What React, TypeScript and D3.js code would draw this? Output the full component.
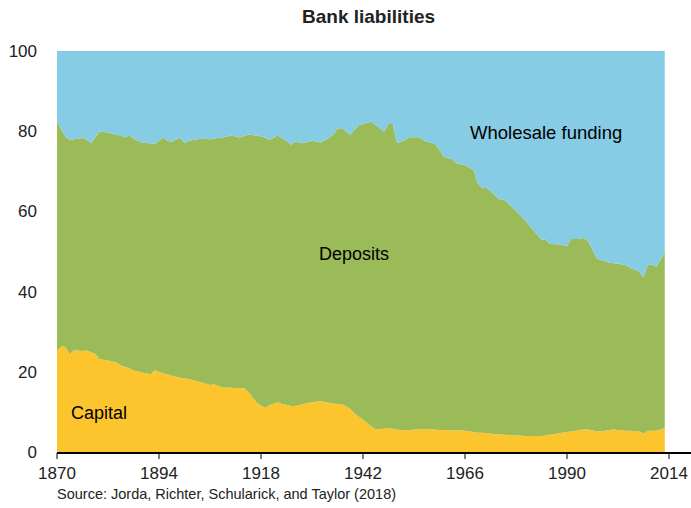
import React from "react";
import * as d3 from "d3";

const years = [
  1870, 1871, 1872, 1873, 1874, 1876, 1877, 1878, 1879, 1880, 1882, 1884, 1885, 1886, 1887, 1888,
  1890, 1892, 1893, 1895, 1896, 1897, 1899, 1900, 1901, 1903, 1904, 1906, 1907, 1909, 1911, 1913,
  1914, 1915, 1917, 1919, 1920, 1922, 1923, 1924, 1925, 1926, 1928, 1930, 1932, 1934, 1935, 1936,
  1937, 1939, 1940, 1941, 1942, 1944, 1945, 1947, 1948, 1949, 1950, 1951, 1953, 1955, 1957, 1959,
  1960, 1961, 1963, 1964, 1966, 1968, 1969, 1970, 1971, 1973, 1974, 1975, 1977, 1979, 1980, 1982,
  1984, 1985, 1986, 1988, 1990, 1991, 1993, 1994, 1995, 1997, 1998, 2000, 2001, 2002, 2004, 2005,
  2007, 2008, 2009, 2010, 2011, 2012, 2013,
];

// share of total liabilities, %
const capital = [
  25.4, 26.3, 26.2, 24.4, 25.4, 25.2, 25.4, 24.9, 24.5, 23.2, 22.8, 22.3, 21.6, 21.2, 20.9, 20.3,
  19.8, 19.4, 20.4, 19.6, 19.4, 19.0, 18.5, 18.4, 18.2, 17.6, 17.4, 16.7, 16.9, 16.1, 16.0, 15.9,
  15.9, 15.0, 12.3, 11.0, 11.7, 12.4, 12.0, 11.8, 11.5, 11.5, 12.0, 12.4, 12.7, 12.3, 12.1, 12.0,
  11.9, 10.8, 9.6, 8.8, 8.1, 6.3, 5.7, 5.8, 5.9, 5.8, 5.6, 5.4, 5.5, 5.7, 5.7, 5.6,
  5.5, 5.5, 5.4, 5.4, 5.3, 5.0, 4.8, 4.8, 4.7, 4.5, 4.4, 4.3, 4.2, 4.1, 4.0, 4.0,
  4.0, 4.1, 4.3, 4.7, 5.0, 5.1, 5.4, 5.7, 5.6, 5.2, 5.1, 5.5, 5.7, 5.5, 5.3, 5.3,
  5.1, 4.6, 5.3, 5.3, 5.3, 5.6, 6.0,
];

const wholesale = [
  17.6, 19.5, 21.4, 22.2, 22.0, 21.7, 22.1, 23.0, 21.5, 20.1, 20.3, 20.9, 21.1, 21.6, 21.1, 21.9,
  22.9, 23.0, 23.2, 21.6, 22.4, 22.6, 21.6, 23.0, 22.4, 22.0, 21.9, 22.0, 21.8, 21.6, 21.1, 21.6,
  21.2, 20.8, 21.1, 21.6, 22.2, 21.1, 21.8, 22.4, 23.4, 22.6, 23.0, 22.4, 22.8, 21.7, 20.9, 19.4,
  19.2, 20.9, 19.7, 18.5, 18.2, 17.6, 18.5, 20.1, 18.2, 18.2, 23.0, 22.6, 21.5, 21.5, 22.6, 23.2,
  24.7, 26.4, 27.0, 28.0, 28.4, 29.7, 33.0, 34.2, 34.1, 35.9, 37.0, 37.0, 38.8, 41.0, 42.0, 44.6,
  47.0, 47.1, 48.1, 48.2, 48.6, 46.9, 46.9, 46.6, 47.5, 51.7, 52.1, 52.8, 52.9, 53.0, 53.5, 54.2,
  55.0, 56.5, 53.4, 53.2, 53.8, 52.1, 50.1,
];

const xTicks = [1870, 1894, 1918, 1942, 1966, 1990, 2014];
const yTicks = [0, 20, 40, 60, 80, 100];

const keys = ["capital", "deposits", "wholesale"];
const colors: Record<string, string> = {
  capital: "#FCC52D",
  deposits: "#9BBB59",
  wholesale: "#87CCE5",
};

const W = 691;
const H = 508;
const font = "'Liberation Sans', Arial, sans-serif";

export default function App() {
  const rows = years.map((year, i) => ({
    year,
    capital: capital[i],
    wholesale: wholesale[i],
    deposits: 100 - capital[i] - wholesale[i],
  }));

  const x = d3.scaleLinear().domain([1870, 2014]).range([57, 669]);
  const y = d3.scaleLinear().domain([0, 100]).range([452, 51]);

  const series = d3.stack<any>().keys(keys)(rows);
  const area = d3
    .area<any>()
    .x((d) => x(d.data.year))
    .y0((d) => y(d[0]))
    .y1((d) => y(d[1]));

  return (
    <svg
      width={W}
      height={H}
      style={{ position: "absolute", left: 0, top: 0 }}
      fontFamily={font}
    >
      <rect width={W} height={H} fill="#fff" />
      <text x={302} y={23} fontSize={19} fontWeight="bold" fill="#222">
        Bank liabilities
      </text>

      {series.map((s) => (
        <path key={s.key} d={area(s) || ""} fill={colors[s.key]} />
      ))}

      {yTicks.map((t) => (
        <text key={t} x={37} y={y(t) + 6} textAnchor="end" fontSize={17} fill="#222">
          {t}
        </text>
      ))}

      <line x1={57} x2={691} y1={453} y2={453} stroke="#000" strokeWidth={2} />
      {xTicks.map((t) => (
        <g key={t}>
          <line x1={x(t)} x2={x(t)} y1={453} y2={459} stroke="#000" strokeWidth={1} />
          <text x={x(t)} y={479} textAnchor="middle" fontSize={17} fill="#222">
            {t}
          </text>
        </g>
      ))}

      <text x={470} y={139} fontSize={18.5} fill="#000">
        Wholesale funding
      </text>
      <text x={319} y={260} fontSize={18} fill="#000">
        Deposits
      </text>
      <text x={71} y={419} fontSize={18} fill="#000">
        Capital
      </text>

      <text x={57} y={499} fontSize={14.5} fill="#222">
        Source: Jorda, Richter, Schularick, and Taylor (2018)
      </text>
    </svg>
  );
}
